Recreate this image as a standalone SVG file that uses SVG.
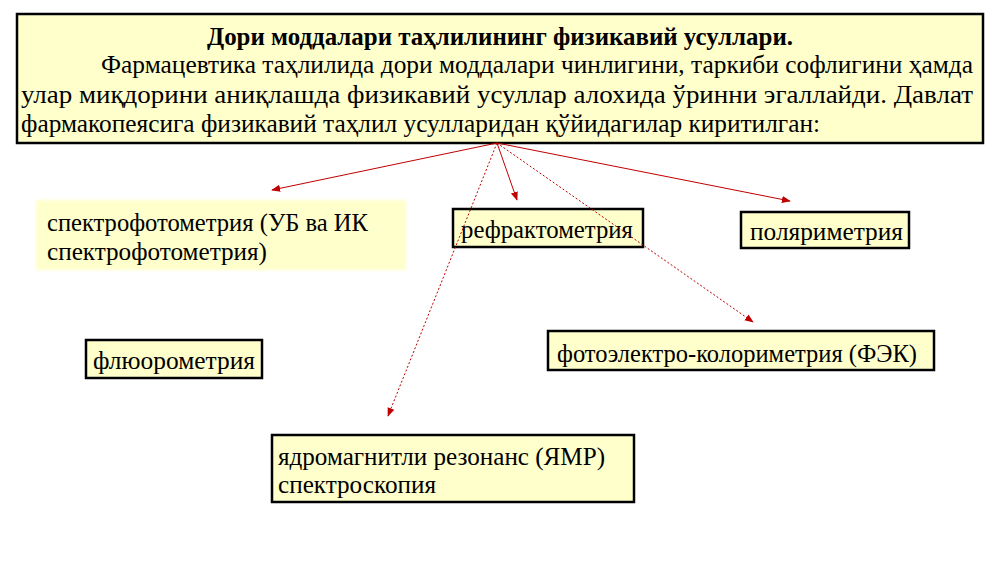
<svg xmlns="http://www.w3.org/2000/svg" width="1000" height="562" viewBox="0 0 1000 562">
<defs>
<style>
.box{fill:#FFFFCC;stroke:#000;stroke-width:2.5}
.t{font-family:'Liberation Serif','Times New Roman','DejaVu Serif',serif;font-size:26px;fill:#000}
.h{font-family:'Liberation Serif','Times New Roman','DejaVu Serif',serif;font-size:25px;font-weight:bold;fill:#000}
.c{stroke:#C00000;stroke-width:1;fill:none}
.d{stroke-dasharray:2 2}
</style>
<marker id="ah" viewBox="0 0 10 10" refX="9" refY="5" markerWidth="9" markerHeight="9" markerUnits="userSpaceOnUse" orient="auto">
<path d="M0,1 L10,5 L0,9 Z" fill="#C00000"/>
</marker>
<filter id="soft" x="-5%" y="-10%" width="110%" height="120%"><feGaussianBlur stdDeviation="1.5"/></filter>
</defs>
<rect width="1000" height="562" fill="#fff"/>
<g id="header">
<rect class="box" x="17" y="14" width="966" height="129"/>
<text class="h" x="207" y="45" textLength="586" lengthAdjust="spacingAndGlyphs">Дори моддалари таҳлилининг физикавий усуллари.</text>
<text class="t" x="101" y="73" textLength="872" lengthAdjust="spacingAndGlyphs">Фармацевтика таҳлилида дори моддалари чинлигини, таркиби софлигини ҳамда</text>
<text class="t" x="21" y="103" textLength="952" lengthAdjust="spacingAndGlyphs">улар миқдорини аниқлашда физикавий усуллар алохида ўринни эгаллайди. Давлат</text>
<text class="t" x="21" y="132" textLength="799" lengthAdjust="spacingAndGlyphs">фармакопеясига физикавий таҳлил усулларидан қўйидагилар киритилган:</text>
</g>
<g id="spectro">
<rect x="36" y="200" width="370" height="70" fill="#FFFFCC" filter="url(#soft)"/>
<text class="t" x="47" y="231" textLength="321" lengthAdjust="spacingAndGlyphs">спектрофотометрия (УБ ва ИК</text>
<text class="t" x="47" y="260" textLength="220" lengthAdjust="spacingAndGlyphs">спектрофотометрия)</text>
</g>
<g id="refracto">
<rect class="box" x="453" y="209" width="190" height="38"/>
<text class="t" x="461" y="238" textLength="172" lengthAdjust="spacingAndGlyphs">рефрактометрия</text>
</g>
<g id="polari">
<rect class="box" x="741" y="212" width="168" height="36"/>
<text class="t" x="750" y="240" textLength="153" lengthAdjust="spacingAndGlyphs">поляриметрия</text>
</g>
<g id="fluoro">
<rect class="box" x="86" y="340" width="176" height="38"/>
<text class="t" x="93" y="369" textLength="162" lengthAdjust="spacingAndGlyphs">флюорометрия</text>
</g>
<g id="fek">
<rect class="box" x="548" y="331" width="386" height="39"/>
<text class="t" x="557" y="362" textLength="360" lengthAdjust="spacingAndGlyphs">фотоэлектро-колориметрия (ФЭК)</text>
</g>
<g id="nmr">
<rect class="box" x="272" y="435" width="362" height="67"/>
<text class="t" x="278" y="465" textLength="327" lengthAdjust="spacingAndGlyphs">ядромагнитли резонанс (ЯМР)</text>
<text class="t" x="278" y="493" textLength="158" lengthAdjust="spacingAndGlyphs">спектроскопия</text>
</g>
<g id="connectors">
<line class="c" x1="497" y1="143" x2="272" y2="190" marker-end="url(#ah)"/>
<line class="c" x1="497" y1="143" x2="517" y2="200" marker-end="url(#ah)"/>
<line class="c" x1="497" y1="143" x2="790" y2="201" marker-end="url(#ah)"/>
<line class="c d" x1="497" y1="143" x2="753" y2="322" marker-end="url(#ah)"/>
<line class="c d" x1="497" y1="143" x2="388" y2="416" marker-end="url(#ah)"/>
</g>
</svg>
